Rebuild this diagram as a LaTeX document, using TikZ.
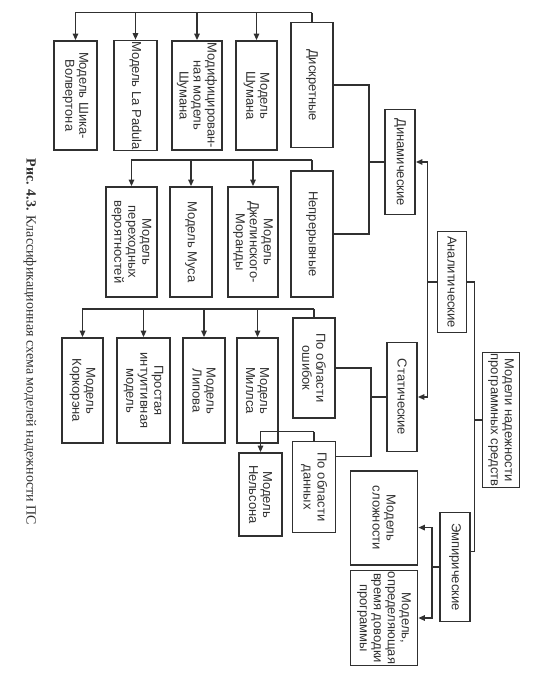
\documentclass[tikz,border=0pt]{standalone}
\usepackage{fontspec}
\setmainfont{Liberation Sans}
\newfontfamily\capfont{Liberation Serif}
\usetikzlibrary{arrows.meta,calc}
\definecolor{ink}{HTML}{303030}

\begin{document}
\begin{tikzpicture}[
  box/.style={rectangle,draw=ink,line width=1.8pt,inner sep=0.5pt,align=center,
    text=ink,font=\fontsize{13}{14}\selectfont},
  wh/.style 2 args={minimum width=#1pt,minimum height=#2pt},
  link/.style={draw=ink,line width=1.4pt},
  feed/.style={link,-{Triangle[length=6.5pt,width=5.5pt]}}
]
  \useasboundingbox (0,0) rectangle (540pt,-685pt);
  \begin{scope}[rotate=-90,transform shape,x=1pt,y=1pt]
  % upper levels
  \node[box,wh={135}{37}] (root) at (420,501) {Модели надежности\\программных средств};
  \node[box,wh={101}{29}] (anal) at (282,452) {Аналитические};
  \node[box,wh={109}{30}] (emp) at (567,455) {Эмпирические};
  \node[box,wh={105}{30}] (dyn) at (162,400) {Динамические};
  \node[box,wh={109}{30}] (stat) at (397,402) {Статические};
  \node[box,wh={125}{42}] (disc) at (85,312) {Дискретные};
  \node[box,wh={126}{42}] (cont) at (234,312) {Непрерывные};
  \node[box,wh={100}{42}] (errs) at (368,314) {По области\\ошибок};
  \node[box,wh={91}{43}] (data) at (487,314) {По области\\данных};
  \node[box,wh={94}{67}] (cplx) at (518,384) {Модель\\сложности};
  \node[box,wh={95}{67}] (tune) at (618,384) {Модель,\\определяющая\\время доводки\\программы};

  % models
  \node[box,wh={109}{43}] (shik) at (95.5,75.5) {Модель Шика-\\Волвертона};
  \node[box,wh={109}{43}] (padu) at (95.5,135.5) {Модель La Padula};
  \node[box,wh={109}{50}] (mshu) at (95.5,197) {Модифицирован-\\ная модель\\Шумана};
  \node[box,wh={109}{41}] (shum) at (95.5,256.5) {Модель\\Шумана};
  \node[box,wh={110}{51}] (trans) at (242,131.5) {Модель\\переходных\\вероятностей};
  \node[box,wh={110}{42}] (musa) at (242,191) {Модель Муса};
  \node[box,wh={110}{50}] (jm) at (242,253) {Модель\\Джелинского-\\Моранды};
  \node[box,wh={105}{41}] (kork) at (390.5,82.5) {Модель\\Коркорэна};
  \node[box,wh={105}{53}] (intu) at (390.5,143.5) {Простая\\интуитивная\\модель};
  \node[box,wh={105}{42}] (lipo) at (390.5,204) {Модель\\Липова};
  \node[box,wh={105}{41}] (mill) at (390.5,257.5) {Модель\\Миллса};
  \node[box,wh={83}{43}] (nels) at (494.5,260.5) {Модель\\Нельсона};

  \node[text=ink,font=\capfont\fontsize{14}{16}\selectfont] (cap) at (342,30)
    {\textbf{Рис. 4.3.} Классификационная схема моделей надежности ПС};

  % connectors
  \draw[link] (anal.north) -- ++(0,7) coordinate (rbus)
    -| ($(emp.north west)!0.36!(emp.north east)$);
  \draw[link] (root.south) -- (root.south |- rbus);
  \draw[link] (anal.south) -- ++(0,-9) coordinate (abus);
  \draw[feed] (abus) -| (dyn.north);
  \draw[feed] (abus) -| (stat.north);
  \draw[link] (emp.south) -- ++(0,-7) coordinate (ebus);
  \draw[feed] (ebus) -| ($(cplx.north west)!0.6!(cplx.north east)$);
  \draw[feed] (ebus) -| (tune.north);
  \draw[link] (dyn.south) -- ++(0,-15) coordinate (dbus);
  \draw[link] (dbus) -| (disc.north);
  \draw[link] (dbus) -| (cont.north);
  \draw[link] (stat.south) -- ++(0,-15) coordinate (sbus);
  \draw[link] (sbus) -| (errs.north);
  \draw[link] (sbus) -| ($(data.north west)!0.17!(data.north east)$);

  \draw[link] (disc.west) -- ++(-9,0) coordinate (kbus);
  \foreach \n in {shik,padu,mshu,shum} \draw[feed] (kbus) |- (\n.west);
  \draw[link] (cont.west) -- ++(-10,0) coordinate (nbus);
  \foreach \n in {trans,musa,jm} \draw[feed] (nbus) |- (\n.west);
  \draw[link] (errs.west) -- ++(-8,0) coordinate (obus);
  \foreach \n in {kork,intu,lipo,mill} \draw[feed] (obus) |- (\n.west);
  \draw[link] (data.west) -- ++(-9,0) coordinate (pbus);
  \draw[feed] (pbus) |- (nels.west);
  \end{scope}
\end{tikzpicture}
\end{document}
